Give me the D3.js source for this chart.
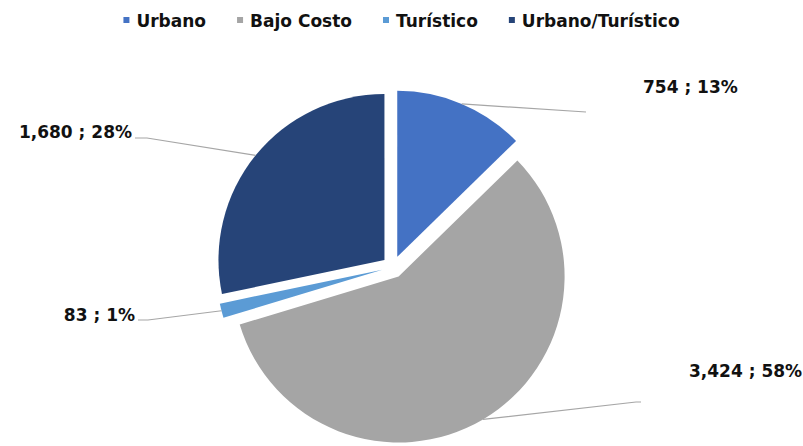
<!DOCTYPE html>
<html>
<head>
<meta charset="utf-8">
<script src="https://cdn.jsdelivr.net/npm/d3@7"></script>
<style>
  body { margin: 0; background: #fff; }
  text { font-family: "DejaVu Sans", Verdana, sans-serif; font-weight: bold; fill: #111; }
</style>
</head>
<body>
<div id="pie-chart"></div>
<script>
// Data
const categories = ["Urbano", "Bajo Costo", "Turístico", "Urbano/Turístico"];
const values = [754, 3424, 83, 1680];
const colors = ["#4472C4", "#A5A5A5", "#5B9BD5", "#264478"];

const width = 803,
  height = 446;
const cx = 393,
  cy = 267,
  radius = 166,
  explode = 11;

// label placement, relative to pie centre (hand placed, like the original)
const labelLayout = [
  { tx: 250, ty: -174, anchor: "start", line: [[193, -155]] },
  { tx: 296, ty: 110, anchor: "start", line: [[243, 135], [248, 135]] },
  { tx: -258, ty: 54, anchor: "end", line: [[-245, 53], [-255, 53]] },
  { tx: -261, ty: -129, anchor: "end", line: [[-246, -129], [-258, -129]] }
];

const total = d3.sum(values);
const fmt = d3.format(",");

const svg = d3
  .select("#pie-chart")
  .append("svg")
  .attr("width", width)
  .attr("height", height);

const pie = d3.pie().sort(null).value((d) => d)(values);
const arc = d3.arc().innerRadius(0).outerRadius(radius);

const g = svg.append("g").attr("transform", `translate(${cx},${cy})`);

const dir = (a) => [Math.sin(a), -Math.cos(a)];

// slices, each pushed out along its mid angle
g.selectAll("path")
  .data(pie)
  .enter()
  .append("path")
  .attr("d", arc)
  .attr("fill", (d, i) => colors[i])
  .attr("transform", (d) => {
    const [x, y] = dir((d.startAngle + d.endAngle) / 2);
    return `translate(${x * explode},${y * explode})`;
  });

// leader lines
g.selectAll("polyline")
  .data(pie)
  .enter()
  .append("polyline")
  .attr("fill", "none")
  .attr("stroke", "#A6A6A6")
  .attr("stroke-width", 1.2)
  .attr("points", (d, i) => {
    const [x, y] = dir((d.startAngle + d.endAngle) / 2);
    const start = [x * (explode + radius), y * (explode + radius)];
    return [start, ...labelLayout[i].line].map((p) => p.join(",")).join(" ");
  });

// data labels
g.selectAll("text.label")
  .data(pie)
  .enter()
  .append("text")
  .attr("class", "label")
  .attr("x", (d, i) => labelLayout[i].tx)
  .attr("y", (d, i) => labelLayout[i].ty)
  .attr("text-anchor", (d, i) => labelLayout[i].anchor)
  .attr("font-size", 17)
  .text((d) => `${fmt(d.value)} ; ${Math.round((d.value / total) * 100)}%`);

// legend, centred at the top
const legend = svg.append("g");
const items = legend
  .selectAll("g")
  .data(categories)
  .enter()
  .append("g");

items
  .append("rect")
  .attr("width", 6)
  .attr("height", 6)
  .attr("y", 17)
  .attr("fill", (d, i) => colors[i]);

items
  .append("text")
  .attr("x", 13)
  .attr("y", 27)
  .attr("font-size", 17)
  .text((d) => d);

let xPos = 0;
items.each(function () {
  const w = d3.select(this).select("text").node().getComputedTextLength();
  d3.select(this).attr("transform", `translate(${xPos},0)`);
  xPos += 13 + w + 31;
});
xPos -= 31;
legend.attr("transform", `translate(${(width - xPos) / 2},0)`);
</script>
</body>
</html>
